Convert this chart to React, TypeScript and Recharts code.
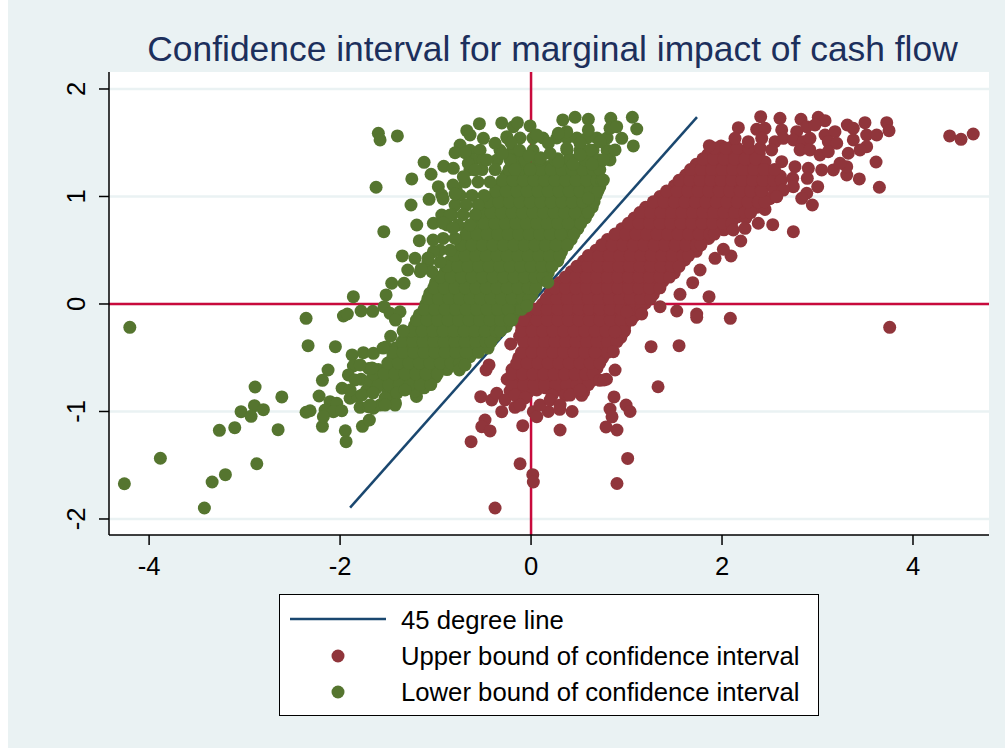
import React from "react";
import { ScatterChart, Scatter, XAxis, YAxis, CartesianGrid, ReferenceLine, Legend, Customized } from "recharts";

const xTicks = [-4, -2, 0, 2, 4];
const yTicks = [-2, -1, 0, 1, 2];
const titleText = "Confidence interval for marginal impact of cash flow";
const lineName = "45 degree line";
const upperName = "Upper bound of confidence interval";
const lowerName = "Lower bound of confidence interval";

const diagonal: [number, number][] = [[-1.895, -1.895], [1.738, 1.738]];

const upperOutliers: [number, number][] = [
[4.384,1.563],[4.503,1.532],[4.631,1.581],[3.756,-.217],[2.747,.673],[2.531,.738],[2.196,.586],[2.094,.447],[1.927,.425],[2.014,.509],
[1.77,.316],[1.693,.198],[1.864,.068],[1.56,.09],[1.351,-.025],[1.526,-.065],[1.735,-.093],[1.735,-.124],[2.087,-.133],[1.257,-.397],
[1.55,-.388],[1.159,-.093],[1.002,-.072],[.967,-.258],[.88,-.258],[.862,-.444],[2.405,1.742],[2.607,1.727],[2.827,1.718],[3.008,1.737],
[3.079,1.705],[2.171,1.64],[2.136,1.541],[1.867,1.473],[2.363,1.625],[2.45,1.634],[2.625,1.619],[2.275,1.51],[2.416,1.541],[2.555,1.51],
[2.642,1.541],[2.52,1.433],[2.782,1.603],[2.887,1.649],[2.974,1.665],[2.747,1.526],[2.851,1.51],[2.921,1.541],[2.817,1.433],[2.921,1.433],
[3.079,1.572],[3.183,1.603],[3.113,1.51],[3.201,1.495],[3.312,1.665],[3.375,1.634],[3.497,1.687],[3.725,1.687],[3.749,1.612],[3.515,1.572],
[3.62,1.572],[3.375,1.526],[3.515,1.463],[3.445,1.433],[3.322,1.402],[3.613,1.321],[3.438,1.163],[3.648,1.086],[3.306,1.2],[3.306,1.277],
[3.166,1.247],[3.236,1.309],[3.044,1.247],[3.026,1.386],[3.113,1.417],[2.904,1.262],[2.764,1.277],[2.625,1.324],[2.893,1.169],[3.002,1.091],
[2.74,1.169],[2.747,1.091],[2.887,1.03],[2.835,.983],[2.946,.921],[2.642,1.06],[2.573,.998],[2.241,.704],[2.118,.688],[2.38,.751],
[-.377,-1.898],[-.115,-1.486],[.018,-1.588],[.024,-1.656],[-.628,-1.281],[-.482,-1.079],[-.516,-1.141],[-.429,-1.181],[-.087,-1.132],[-.527,-.862],
[-.412,-.893],[-.359,-.831],[-.307,-1.002],[-.168,-.961],[.024,-1.002],[.06,-1.048],[-.44,-.567],[-.471,-.614],[-.213,-.372],[-.081,-.149],
[.304,-1.172],[.785,-1.144],[.9,-1.172],[.869,-.865],[.995,-.94],[1.037,-1.0],[1.012,-1.437],[.9,-1.67],[1.33,-.77],[.79,-.7],
[.43,-1.0],[.18,-1.0],[.3,-.98],[.22,-.85],[.36,-.85],[.53,-.85],[.72,-.71],
[-.272,-.893],[-.168,-.847],[-.063,-.874],[.094,-.94],[.2,-.893],[.304,-.94],[.408,-.847],[.513,-.8],[-.115,-.94],[.88,-.614],[.764,-.707],[.827,-.977],[.848,-1.05],
];

const upperCloud: [number, number][] = [
[-.22,-.81],[-.13,-.79],[-.03,-.82],[.06,-.8],[.15,-.78],[.25,-.81],[.34,-.8],[.44,-.79],[.55,-.82],
[-.25,-.7],[-.16,-.71],[-.07,-.69],[.02,-.72],[.11,-.7],[.2,-.69],[.29,-.71],[.38,-.7],[.47,-.72],[.56,-.69],[.64,-.71],
[-.2,-.61],[-.11,-.59],[-.02,-.6],[.07,-.62],[.16,-.6],[.25,-.59],[.34,-.61],[.43,-.6],[.52,-.62],[.61,-.59],[.69,-.6],
[-.13,-.5],[-.05,-.51],[.04,-.49],[.12,-.5],[.21,-.52],[.3,-.49],[.39,-.51],[.48,-.5],[.57,-.49],[.66,-.52],[.75,-.5],
[-.06,-.41],[.03,-.39],[.12,-.4],[.21,-.42],[.3,-.41],[.39,-.38],[.48,-.4],[.57,-.41],[.66,-.39],[.75,-.42],[.84,-.4],
[-.12,-.3],[-.03,-.31],[.06,-.29],[.15,-.3],[.24,-.32],[.33,-.29],[.42,-.31],[.51,-.3],[.6,-.28],[.69,-.31],[.78,-.3],[.87,-.29],[.94,-.31],
[-.1,-.2],[-.01,-.21],[.08,-.19],[.17,-.2],[.26,-.22],[.35,-.19],[.44,-.21],[.53,-.2],[.62,-.18],[.71,-.21],[.8,-.2],[.89,-.19],[.98,-.21],
[.0,-.1],[.09,-.11],[.18,-.09],[.27,-.1],[.36,-.12],[.45,-.09],[.54,-.11],[.63,-.1],[.72,-.08],[.81,-.11],[.9,-.1],[.99,-.09],[1.08,-.11],
[.12,.0],[.21,.01],[.3,-.01],[.39,.0],[.48,.02],[.57,-.01],[.66,.01],[.75,.0],[.84,-.02],[.93,.01],[1.02,.0],[1.11,-.01],[1.2,.01],
[.2,.1],[.29,.09],[.38,.11],[.47,.1],[.56,.08],[.65,.11],[.74,.09],[.83,.1],[.92,.12],[1.01,.09],[1.1,.1],[1.19,.11],[1.28,.09],
[.3,.2],[.39,.21],[.48,.19],[.57,.2],[.66,.22],[.75,.19],[.84,.21],[.93,.2],[1.02,.18],[1.11,.21],[1.2,.2],[1.29,.19],[1.38,.21],
[.42,.3],[.51,.29],[.6,.31],[.69,.3],[.78,.28],[.87,.31],[.96,.29],[1.05,.3],[1.14,.32],[1.23,.29],[1.32,.3],[1.41,.31],[1.5,.29],
[.55,.4],[.64,.41],[.73,.39],[.82,.4],[.91,.42],[1.0,.39],[1.09,.41],[1.18,.4],[1.27,.38],[1.36,.41],[1.45,.4],[1.54,.39],[1.61,.41],
[.68,.5],[.77,.49],[.86,.51],[.95,.5],[1.04,.48],[1.13,.51],[1.22,.49],[1.31,.5],[1.4,.52],[1.49,.49],[1.58,.5],[1.67,.51],[1.73,.49],
[.8,.6],[.89,.61],[.98,.59],[1.07,.6],[1.16,.62],[1.25,.59],[1.34,.61],[1.43,.6],[1.52,.58],[1.61,.61],[1.7,.6],[1.79,.59],[1.86,.61],
[.95,.7],[1.04,.69],[1.13,.71],[1.22,.7],[1.31,.68],[1.4,.71],[1.49,.69],[1.58,.7],[1.67,.72],[1.76,.69],[1.85,.7],[1.94,.71],[2.02,.69],
[1.08,.8],[1.17,.81],[1.26,.79],[1.35,.8],[1.44,.82],[1.53,.79],[1.62,.81],[1.71,.8],[1.8,.78],[1.89,.81],[1.98,.8],[2.07,.79],[2.16,.81],[2.25,.8],
[1.2,.9],[1.29,.89],[1.38,.91],[1.47,.9],[1.56,.88],[1.65,.91],[1.74,.89],[1.83,.9],[1.92,.92],[2.01,.89],[2.1,.9],[2.19,.91],[2.28,.89],[2.37,.9],[2.45,.88],
[1.35,1.0],[1.44,1.01],[1.53,.99],[1.62,1.0],[1.71,1.02],[1.8,.99],[1.89,1.01],[1.98,1.0],[2.07,.98],[2.16,1.01],[2.25,1.0],[2.34,.99],[2.43,1.01],[2.5,.98],
[1.5,1.1],[1.59,1.09],[1.68,1.11],[1.77,1.1],[1.86,1.08],[1.95,1.11],[2.04,1.09],[2.13,1.1],[2.22,1.12],[2.31,1.09],[2.4,1.1],[2.48,1.11],[2.57,1.09],
[1.62,1.2],[1.71,1.21],[1.8,1.19],[1.89,1.2],[1.98,1.22],[2.07,1.19],[2.16,1.21],[2.25,1.2],[2.34,1.18],[2.43,1.21],[2.52,1.2],[2.61,1.19],
[1.73,1.3],[1.82,1.29],[1.91,1.31],[2.0,1.3],[2.09,1.28],[2.18,1.31],[2.27,1.29],[2.36,1.3],[2.45,1.32],
[1.85,1.39],[1.94,1.41],[2.03,1.4],[2.12,1.38],[2.21,1.41],[2.3,1.39],[2.39,1.4],[1.99,1.47],[2.1,1.46],
];

const upperFill: [number, number[]][] = [
[-.75,[-.2,-.08,.03,.14,.26,.37,.48,.6]],
[-.65,[-.2,-.09,.02,.13,.24,.35,.46,.57,.65]],
[-.55,[-.15,-.04,.07,.18,.29,.4,.51,.62,.72]],
[-.45,[-.1,.01,.12,.23,.34,.45,.56,.67,.8]],
[-.35,[-.08,.03,.14,.25,.36,.47,.58,.69,.8,.9]],
[-.25,[-.1,.01,.12,.23,.34,.45,.56,.67,.78,.89,.98]],
[-.15,[-.05,.06,.17,.28,.39,.5,.61,.72,.83,.94,1.05]],
[-.05,[.06,.17,.28,.39,.5,.61,.72,.83,.94,1.05,1.15]],
[.05,[.16,.27,.38,.49,.6,.71,.82,.93,1.04,1.15,1.25]],
[.15,[.25,.36,.47,.58,.69,.8,.91,1.02,1.13,1.24,1.35]],
[.25,[.36,.47,.58,.69,.8,.91,1.02,1.13,1.24,1.35,1.45]],
[.35,[.48,.59,.7,.81,.92,1.03,1.14,1.25,1.36,1.47,1.55]],
[.45,[.6,.71,.82,.93,1.04,1.15,1.26,1.37,1.48,1.59,1.65]],
[.55,[.74,.85,.96,1.07,1.18,1.29,1.4,1.51,1.62,1.73,1.78]],
[.65,[.88,.99,1.1,1.21,1.32,1.43,1.54,1.65,1.76,1.87,1.92]],
[.75,[1.02,1.13,1.24,1.35,1.46,1.57,1.68,1.79,1.9,2.01,2.1]],
[.85,[1.14,1.25,1.36,1.47,1.58,1.69,1.8,1.91,2.02,2.13,2.24,2.3]],
[.95,[1.28,1.39,1.5,1.61,1.72,1.83,1.94,2.05,2.16,2.27,2.38,2.45]],
[1.05,[1.42,1.53,1.64,1.75,1.86,1.97,2.08,2.19,2.3,2.41,2.55]],
[1.15,[1.55,1.66,1.77,1.88,1.99,2.1,2.21,2.32,2.43,2.54,2.62]],
[1.25,[1.67,1.78,1.89,2.0,2.11,2.22,2.33,2.44,2.55]],
[1.35,[1.8,1.91,2.02,2.13,2.24,2.35]],
[1.45,[1.92,2.04,2.16,2.28,2.4]],
];

const lowerOutliers: [number, number][] = [
[-2.89,-.772],[-2.61,-.865],[-3.037,-1.002],[-2.897,-.946],[-2.932,-1.045],[-2.803,-.983],[-3.103,-1.151],[-3.264,-1.175],[-2.649,-1.169],[-3.882,-1.435],
[-4.259,-1.672],[-3.34,-1.656],[-3.201,-1.588],[-2.872,-1.486],[-3.421,-1.898],[-4.202,-.217],[-2.356,-.133],[-2.335,-.388],[-2.049,-.397],[-1.965,-.112],
[-1.924,-.093],[-1.658,-.068],[-2.126,-.614],[-2.185,-.71],[-2.22,-.856],[-2.356,-1.007],[-2.314,-.993],[-2.185,-1.138],[-1.945,-1.179],[-1.937,-1.281],
[-1.766,-1.138],[-1.693,-1.079],[-1.874,-.474],[-1.756,-.453],[-1.651,-.459],[-1.861,-.577],[-1.913,-.66],[-1.979,-.784],[-1.895,-.877],[-2.105,-.909],
[-2.035,-.924],[-2.157,-.986],[-2.07,-1.002],[-1.982,-.993],[-2.175,-1.048],[-1.79,-.961],[-1.704,-.955],[-1.651,-.97],[-1.581,-.94],[-1.812,-.862],
[-.751,-.614],[-.691,-.567],[-1.599,1.588],[-1.581,1.526],[-1.4,1.563],[-1.623,1.086],[-1.542,.673],[-1.249,1.163],[-1.257,.921],[-1.12,1.318],
[-1.047,1.207],[-.914,1.281],[-1.197,.735],[-1.17,.589],[-1.348,.447],[-1.215,.425],[-1.291,.316],[-1.459,.193],[-1.33,.193],[-1.518,.084],
[-1.861,.068],[-1.78,-.065],[-1.539,-.025],[-1.476,-.087],[-1.372,-.072],[-1.023,.751],[-1.068,.974],[-.971,1.091],[-.935,1.014],[-.935,.828],
[-.785,1.067],[-.814,1.262],[-.673,1.612],[-.541,1.677],[-.639,1.572],[-.499,1.541],[-.743,1.479],[-.796,1.407],[-.691,1.407],[-.657,1.309],
[-.586,1.247],[-.709,1.184],[-.307,1.684],[-.185,1.649],[-.254,1.556],[-.377,1.495],[-.464,1.34],[-1.023,.486],[-.143,1.687],[-.01,1.656],
[.332,1.712],[.461,1.737],[.6,1.718],[.835,1.727],[1.061,1.737],[1.107,1.628],[1.071,1.47],[.95,1.541],[.88,1.433],[.827,1.634],
[.897,1.649],[.6,1.619],[.374,1.603],[.286,1.588],[.181,1.495],[.374,1.448],[.513,1.495],[.723,1.51],[.06,1.572],[.618,1.433],
[.286,1.324],[.513,1.386],[.757,1.34],[.757,1.153],[.6,.983],[.175,.202],[-.045,-.019],[-.22,-.149],[-.21,1.5],[-.12,1.43],
[-.3,1.4],[-.02,1.38],[.1,1.36],[.2,1.4],[.44,1.3],[.64,1.3],
[-.817,1.107],[-.921,.977],[-.796,1.023],[-.848,.828],[-.921,.753],[-.817,.707],[-1.026,.595],[-1.079,.428],[-1.152,.326],
[-1.34,-.25],[-1.42,-.15],[-1.47,-.3],[-1.55,-.41],
[-1.79,-.567],[-1.665,-.595],[-1.843,-.707],[-1.895,-.8],[-1.77,-.846],[-1.654,-.828],[-1.529,-.874],[-1.403,-.828],[-1.32,-.8],[-1.424,-.94],[-1.529,-.94],[-1.686,-.94],
];

const lowerCloud: [number, number][] = [
[-1.47,-.9],[-1.42,-.92],[-1.2,-.86],
[-1.72,-.8],[-1.62,-.78],[-1.5,-.81],[-1.41,-.8],[-1.32,-.79],[-1.22,-.81],[-1.12,-.78],
[-1.78,-.7],[-1.68,-.71],[-1.58,-.69],[-1.48,-.7],[-1.39,-.72],[-1.3,-.69],[-1.2,-.71],[-1.1,-.7],[-1.0,-.68],
[-1.7,-.6],[-1.6,-.61],[-1.5,-.59],[-1.42,-.6],[-1.33,-.62],[-1.24,-.59],[-1.15,-.61],[-1.06,-.6],[-.97,-.58],[-.88,-.61],
[-1.45,-.5],[-1.36,-.49],[-1.27,-.51],[-1.18,-.5],[-1.09,-.48],[-1.0,-.51],[-.91,-.49],[-.82,-.5],[-.73,-.52],[-.64,-.49],
[-1.52,-.4],[-1.42,-.41],[-1.33,-.39],[-1.24,-.4],[-1.15,-.42],[-1.06,-.39],[-.97,-.41],[-.88,-.4],[-.79,-.38],[-.7,-.41],[-.61,-.4],[-.52,-.39],[-.45,-.41],
[-1.28,-.3],[-1.19,-.31],[-1.1,-.29],[-1.01,-.3],[-.92,-.32],[-.83,-.29],[-.74,-.31],[-.65,-.3],[-.56,-.28],[-.47,-.31],[-.38,-.3],
[-1.22,-.2],[-1.13,-.19],[-1.04,-.21],[-.95,-.2],[-.86,-.18],[-.77,-.21],[-.68,-.19],[-.59,-.2],[-.5,-.22],[-.41,-.19],[-.32,-.2],[-.26,-.21],
[-1.17,-.1],[-1.08,-.11],[-.99,-.09],[-.9,-.1],[-.81,-.12],[-.72,-.09],[-.63,-.11],[-.54,-.1],[-.45,-.08],[-.36,-.11],[-.27,-.1],[-.18,-.09],
[-1.1,.0],[-1.01,.01],[-.92,-.01],[-.83,.0],[-.74,.02],[-.65,-.01],[-.56,.01],[-.47,.0],[-.38,-.02],[-.29,.01],[-.2,.0],[-.11,-.01],[-.05,.01],
[-1.06,.1],[-.97,.09],[-.88,.11],[-.79,.1],[-.7,.08],[-.61,.11],[-.52,.09],[-.43,.1],[-.34,.12],[-.25,.09],[-.16,.1],[-.07,.11],[.01,.09],
[-1.0,.2],[-.91,.21],[-.82,.19],[-.73,.2],[-.64,.22],[-.55,.19],[-.46,.21],[-.37,.2],[-.28,.18],[-.19,.21],[-.1,.2],[-.01,.19],[.08,.21],
[-.9,.3],[-.81,.29],[-.72,.31],[-.63,.3],[-.54,.28],[-.45,.31],[-.36,.29],[-.27,.3],[-.18,.32],[-.09,.29],[.0,.3],[.09,.31],[.18,.29],
[-.85,.4],[-.76,.41],[-.67,.39],[-.58,.4],[-.49,.42],[-.4,.39],[-.31,.41],[-.22,.4],[-.13,.38],[-.04,.41],[.05,.4],[.14,.39],[.23,.41],[.28,.4],
[-.76,.5],[-.67,.49],[-.58,.51],[-.49,.5],[-.4,.48],[-.31,.51],[-.22,.49],[-.13,.5],[-.04,.52],[.05,.49],[.14,.5],[.23,.51],[.32,.49],
[-.7,.6],[-.61,.61],[-.52,.59],[-.43,.6],[-.34,.62],[-.25,.59],[-.16,.61],[-.07,.6],[.02,.58],[.11,.61],[.2,.6],[.29,.59],[.38,.61],[.42,.6],
[-.66,.7],[-.57,.69],[-.48,.71],[-.39,.7],[-.3,.68],[-.21,.71],[-.12,.69],[-.03,.7],[.06,.72],[.15,.69],[.24,.7],[.33,.71],[.42,.69],[.49,.7],
[-.56,.8],[-.47,.81],[-.38,.79],[-.29,.8],[-.2,.82],[-.11,.79],[-.02,.81],[.07,.8],[.16,.78],[.25,.81],[.34,.8],[.43,.79],[.52,.81],[.57,.8],
[-.5,.9],[-.41,.89],[-.32,.91],[-.23,.9],[-.14,.88],[-.05,.91],[.04,.89],[.13,.9],[.22,.92],[.31,.89],[.4,.9],[.49,.91],[.58,.89],[.64,.9],
[-.4,1.0],[-.31,1.01],[-.22,.99],[-.13,1.0],[-.04,1.02],[.05,.99],[.14,1.01],[.23,1.0],[.32,.98],[.41,1.01],[.5,1.0],[.59,.99],[.68,1.01],
[-.34,1.1],[-.25,1.09],[-.16,1.11],[-.07,1.1],[.02,1.08],[.11,1.11],[.2,1.09],[.29,1.1],[.38,1.12],[.47,1.09],[.56,1.1],[.65,1.11],[.72,1.09],
[-.26,1.2],[-.17,1.21],[-.06,1.19],[.04,1.2],[.14,1.22],[.24,1.19],[.34,1.21],[.43,1.2],[.52,1.18],[.61,1.21],[.7,1.2],
[-.2,1.3],[-.08,1.29],[.04,1.27],[.18,1.28],[.34,1.3],[.53,1.27],[.7,1.26],
];

const lowerFill: [number, number[]][] = [
[-.75,[-1.6,-1.49,-1.38,-1.27,-1.16,-1.05]],
[-.65,[-1.65,-1.54,-1.43,-1.32,-1.21,-1.1,-.98]],
[-.55,[-1.5,-1.39,-1.28,-1.17,-1.06,-.95,-.84,-.75]],
[-.45,[-1.45,-1.34,-1.23,-1.12,-1.01,-.9,-.79,-.68,-.55]],
[-.35,[-1.35,-1.24,-1.13,-1.02,-.91,-.8,-.69,-.58,-.47,-.42]],
[-.25,[-1.25,-1.14,-1.03,-.92,-.81,-.7,-.59,-.48,-.37,-.32]],
[-.15,[-1.2,-1.09,-.98,-.87,-.76,-.65,-.54,-.43,-.32,-.2]],
[-.05,[-1.12,-1.01,-.9,-.79,-.68,-.57,-.46,-.35,-.24,-.1]],
[.05,[-1.08,-.97,-.86,-.75,-.64,-.53,-.42,-.31,-.2,-.09,-.02]],
[.15,[-1.02,-.91,-.8,-.69,-.58,-.47,-.36,-.25,-.14,-.03,.05]],
[.25,[-.95,-.84,-.73,-.62,-.51,-.4,-.29,-.18,-.07,.04,.12]],
[.35,[-.88,-.77,-.66,-.55,-.44,-.33,-.22,-.11,0,.11,.22]],
[.45,[-.8,-.69,-.58,-.47,-.36,-.25,-.14,-.03,.08,.19,.3]],
[.55,[-.73,-.62,-.51,-.4,-.29,-.18,-.07,.04,.15,.26,.38]],
[.65,[-.68,-.57,-.46,-.35,-.24,-.13,-.02,.09,.2,.31,.45]],
[.75,[-.6,-.49,-.38,-.27,-.16,-.05,.06,.17,.28,.39,.52]],
[.85,[-.53,-.42,-.31,-.2,-.09,.02,.13,.24,.35,.46,.6]],
[.95,[-.45,-.34,-.23,-.12,-.01,.1,.21,.32,.43,.54,.66]],
[1.05,[-.37,-.26,-.15,-.04,.07,.18,.29,.4,.51,.62,.7]],
[1.15,[-.3,-.19,-.08,.03,.14,.25,.36,.47,.58,.69,.74]],
[1.25,[-.23,-.12,-.01,.1,.21,.32,.43,.54,.65,.72]],
[1.35,[-.14,.07,.28,.4,.62]],
];

const lowerFringe: [number, number[]][] = [
[1.544,[-.25,-.115,.02,.125,.27,.377,.48,.586,.69,.796]],
[1.43,[-.64,-.534,-.325,-.19,.02,.377,.513,.65,.796]],
[1.34,[-.607,-.503,-.356,-.22,-.063,.094,.25,.41,.565,.72,.827]],
[1.25,[-.64,-.513,-.377,-.168,-.01]],
[1.135,[-.69,-.555,-.43]],
[1.01,[-.743,-.618,-.492]],
[.92,[-.796,-.68,-.555]],
[.83,[-.827,-.712,-.586]],
[.735,[-.88,-.764,-.64]],
[.61,[-.92,-.796]],
[.5,[-.953,-.848]],
[.39,[-1.08,-.953]],
[.3,[-1.16,-1.037]],
];

const rowsToPairs = (rows: [number, number[]][]): [number, number][] =>
  rows.flatMap(([y, xs]) => xs.map((x): [number, number] => [x, y]));

const upperPoints = [...upperCloud, ...rowsToPairs(upperFill), ...upperOutliers].map(([x, y]) => ({ x, y }));
const lowerPoints = [...lowerCloud, ...rowsToPairs(lowerFill), ...rowsToPairs(lowerFringe), ...lowerOutliers].map(([x, y]) => ({ x, y }));
const linePoints = diagonal.map(([x, y]) => ({ x, y }));

const FONT = "'Liberation Sans', Arial, sans-serif";
const BG = "#eaf2f3";
const RED = "#90353b";
const GREEN = "#55752f";
const NAVY = "#1a476f";
const CRIMSON = "#c80a3c";

const dot = (color: string) => (p: any) => <circle cx={p.cx} cy={p.cy} r={6.5} fill={color} />;
const noDot = () => <g />;

const XTick = (p: any) => (
  <text x={p.x} y={575} textAnchor="middle" fontFamily={FONT} fontSize={25.6} fill="#000">{p.payload.value}</text>
);
const YTick = (p: any) => (
  <text x={77} y={p.y} transform={`rotate(-90 77 ${p.y})`} textAnchor="middle" fontFamily={FONT} fontSize={25.6} fill="#000">{p.payload.value}</text>
);

const LegendBox = (props: any) => (
  <div style={{ position: "relative", width: 540, height: 122, boxSizing: "border-box", background: "#fff", border: "1.5px solid #000", fontFamily: FONT, fontSize: 25.7, color: "#000" }}>
    {(props.payload || []).map((e: any, i: number) => (
      <div key={i} style={{ position: "absolute", left: 0, top: 7 + i * 36, height: 36, width: "100%" }}>
        <svg width={110} height={36} style={{ position: "absolute", left: 0, top: 0 }}>
          {i === 0
            ? <line x1={10} x2={106} y1={17} y2={17} stroke={NAVY} strokeWidth={2.5} />
            : <circle cx={58} cy={18} r={6.5} fill={e.color} />}
        </svg>
        <span style={{ position: "absolute", left: 121, top: 3, whiteSpace: "nowrap", lineHeight: "30px" }}>{e.value}</span>
      </div>
    ))}
  </div>
);

const Title = () => (
  <text x={544.5} y={61} textAnchor="middle" fontFamily={FONT} fontSize={35.4} fill="#1c2f5c">{titleText}</text>
);

export default function App() {
  return (
    <div style={{ position: "absolute", left: 8, top: 0, width: 997, height: 748, background: BG }}>
      <ScatterChart width={997} height={748} margin={{ top: 72, right: 16, bottom: 163, left: 41 }}>
        <CartesianGrid horizontal vertical={false} fill="#fff" stroke={BG} strokeWidth={2.5} horizontalValues={yTicks} />
        <XAxis type="number" dataKey="x" domain={[-4.42, 4.796]} ticks={xTicks} height={50} tickSize={10} tick={<XTick />} stroke="#000" strokeWidth={1.5} interval={0} />
        <YAxis type="number" dataKey="y" domain={[-2.149, 2.158]} ticks={yTicks} width={60} tickSize={10} tick={<YTick />} stroke="#000" strokeWidth={1.5} interval={0} />
        <ReferenceLine x={0} stroke={CRIMSON} strokeWidth={2.5} />
        <ReferenceLine y={0} stroke={CRIMSON} strokeWidth={2.5} />
        <Scatter name={lineName} data={linePoints} line={{ stroke: NAVY, strokeWidth: 2.5 }} lineType="joint" shape={noDot} legendType="line" fill={NAVY} stroke={NAVY} isAnimationActive={false} />
        <Scatter name={upperName} data={upperPoints} shape={dot(RED)} legendType="circle" fill={RED} isAnimationActive={false} />
        <Scatter name={lowerName} data={lowerPoints} shape={dot(GREEN)} legendType="circle" fill={GREEN} isAnimationActive={false} />
        <Legend layout="horizontal" verticalAlign="middle" align="center" itemSorter={null} wrapperStyle={{ left: 271, top: 594, width: 540, height: 122, bottom: "auto", right: "auto" }} content={<LegendBox />} />
        <Customized component={Title} />
      </ScatterChart>
    </div>
  );
}
